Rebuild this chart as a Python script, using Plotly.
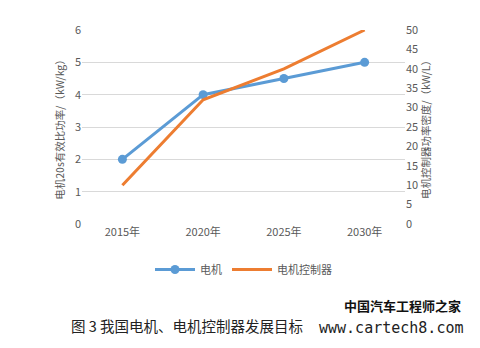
import plotly.graph_objects as go

years = ["2015年", "2020年", "2025年", "2030年"]
motor = [2, 4, 4.5, 5]            # kW/kg
controller = [10, 32, 40, 50]     # kW/L

FONT = "Noto Sans CJK SC, sans-serif"
TICK = "#595959"

fig = go.Figure()
fig.add_trace(go.Scatter(
    x=years, y=motor, name="电机", mode="lines+markers",
    line=dict(color="#5B9BD5", width=3), marker=dict(size=9, color="#5B9BD5"),
    yaxis="y"))
fig.add_trace(go.Scatter(
    x=years, y=controller, name="电机控制器", mode="lines",
    line=dict(color="#ED7D31", width=3),
    yaxis="y2"))

fig.update_layout(
    width=480, height=348,
    margin=dict(l=82, r=75, t=30, b=124),
    paper_bgcolor="white", plot_bgcolor="white",
    font=dict(family=FONT, size=11, color=TICK),
    xaxis=dict(type="category", range=[-0.5, 3.5], showgrid=False, showline=False, ticks="",
               tickfont=dict(size=11, color=TICK), zeroline=False),
    yaxis=dict(range=[0, 6], dtick=1, showgrid=True, gridcolor="#D9D9D9", gridwidth=1,
               zeroline=False, ticks="", tickfont=dict(size=11, color=TICK),
               title=dict(text="电机20s有效比功率/（kW/kg）", font=dict(size=10.5, color=TICK), standoff=8)),
    yaxis2=dict(range=[0, 50], dtick=5, overlaying="y", side="right", showgrid=False,
                zeroline=False, ticks="", tickfont=dict(size=11, color=TICK),
                title=dict(text="电机控制器功率密度/（kW/L）", font=dict(size=10.5, color=TICK), standoff=4)),
    legend=dict(orientation="h", x=0.5, xanchor="center", y=-0.16, yanchor="top",
                font=dict(size=11, color=TICK), itemwidth=40),
    showlegend=True,
)

fig.add_annotation(text="图 3 我国电机、电机控制器发展目标", xref="paper", yref="paper",
                   x=-0.04, xanchor="left", y=-0.525, yanchor="middle", showarrow=False,
                   font=dict(size=14.5, color="#222222", family=FONT))
fig.add_annotation(text="<b>中国汽车工程师之家</b>", xref="paper", yref="paper",
                   x=1.18, xanchor="right", y=-0.42, yanchor="middle", showarrow=False,
                   font=dict(size=13, color="#111111", family=FONT))
fig.add_annotation(text="www.cartech8.com", xref="paper", yref="paper",
                   x=1.19, xanchor="right", y=-0.535, yanchor="middle", showarrow=False,
                   font=dict(size=15, color="#222222", family="DejaVu Sans Mono, monospace"))

fig.write_html("out.html")
